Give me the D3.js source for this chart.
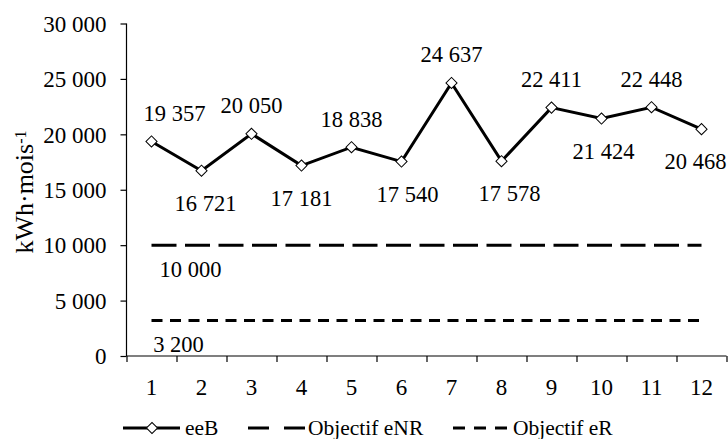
<!DOCTYPE html>
<html><head><meta charset="utf-8">
<script src="https://cdn.jsdelivr.net/npm/d3@7"></script>
<style>
html,body{margin:0;padding:0;background:#fff;}
svg text{font-family:"Liberation Serif","Times New Roman","DejaVu Serif",serif !important;fill:#000;}
</style></head>
<body>
<svg id="c" width="728" height="439" font-family="Liberation Serif, Times New Roman, DejaVu Serif, serif"></svg>
<script>
// ---- data ----
const months = [1,2,3,4,5,6,7,8,9,10,11,12];
const eeB = [19357,16721,20050,17181,18838,17540,24637,17578,22411,21424,22448,20468];
const objectifENR = [10000,10000,10000,10000,10000,10000,10000,10000,10000,10000,10000,10000];
const objectifER = [3200,3200,3200,3200,3200,3200,3200,3200,3200,3200,3200,3200];
const yTickValues = [0,5000,10000,15000,20000,25000,30000];
const seriesNames = ["eeB","Objectif eNR","Objectif eR"];
const yTitle = "kWh·mois";
const yTitleSup = "-1";

// ---- layout (label placement, not data) ----
const labelSide = ["above","below","above","below","above","below","above","below","above","below","above","below"];
const labelDx = [23,4,0,0,0,6,0,8,0,2,0,-6];

const svg = d3.select("#c");
const FF = "Liberation Serif, Times New Roman, DejaVu Serif, serif";
const fmt = d3.formatLocale({decimal:",",thousands:" ",grouping:[3],currency:["","€"]}).format(",d");

const x = d3.scaleLinear().domain([0.5,12.5]).range([126.5,726.5]);
const y = d3.scaleLinear().domain([0,30000]).range([356,23.5]);

// y axis
const yAxis = svg.append("g").attr("transform","translate(126.5,0)")
  .call(d3.axisLeft(y).tickValues(yTickValues).tickSize(6).tickPadding(14).tickFormat(fmt));
yAxis.attr("font-family",FF);
yAxis.selectAll("text").style("font-size","23px").attr("fill","#000").attr("dy","0.34em");
yAxis.selectAll("line,path").attr("stroke","#000").attr("stroke-width",1.2);
yAxis.select("path").attr("d","M0,"+y(30000)+"V"+y(0));

// x axis
const xAxis = svg.append("g").attr("transform","translate(0,"+y(0)+")")
  .call(d3.axisBottom(x).tickValues(d3.range(0.5,13,1)).tickSize(6).tickFormat(""));
xAxis.selectAll("line,path").attr("stroke","#000").attr("stroke-width",1.2);
xAxis.select("path").attr("d","M"+x(0.5)+",0H"+x(12.5));
svg.append("g").attr("font-family",FF).selectAll("text").data(months).join("text")
  .attr("x",d=>x(d)).attr("y",395).attr("text-anchor","middle")
  .style("font-size","23px").text(d=>d);

// y title
const tt = svg.append("text").attr("font-family",FF).attr("transform","translate(33,192) rotate(-90)")
  .attr("text-anchor","middle").style("font-size","26px");
tt.append("tspan").text(yTitle);
tt.append("tspan").attr("dy","-0.45em").style("font-size","16px").text(yTitleSup);

// reference lines
const line = d3.line().x((d,i)=>x(months[i])).y(d=>y(d));
svg.append("path").datum(objectifENR).attr("d",line).attr("fill","none")
  .attr("stroke","#000").attr("stroke-width",3).attr("stroke-dasharray","25,8.5");
svg.append("path").datum(objectifER).attr("d",line).attr("fill","none")
  .attr("stroke","#000").attr("stroke-width",3).attr("stroke-dasharray","11,7.5");
svg.append("text").attr("font-family",FF).attr("x",x(months[0])+39).attr("y",y(objectifENR[0])+32)
  .attr("text-anchor","middle").style("font-size","22.5px").text(fmt(objectifENR[0]));
svg.append("text").attr("font-family",FF).attr("x",x(months[0])+27).attr("y",y(objectifER[0])+31.5)
  .attr("text-anchor","middle").style("font-size","22.5px").text(fmt(objectifER[0]));

// eeB line
svg.append("path").datum(eeB).attr("d",line).attr("fill","none")
  .attr("stroke","#000").attr("stroke-width",3).attr("stroke-linejoin","miter");
svg.append("g").selectAll("path").data(eeB).join("path")
  .attr("d",d3.symbol().type(d3.symbolSquare).size(62)())
  .attr("transform",(d,i)=>"translate("+x(months[i])+","+y(d)+") rotate(45)")
  .attr("fill","#fff").attr("stroke","#000").attr("stroke-width",1);
svg.append("g").attr("font-family",FF).selectAll("text").data(eeB).join("text")
  .attr("x",(d,i)=>x(months[i])+labelDx[i])
  .attr("y",(d,i)=>y(d)+(labelSide[i]==="above"?-20.5:40))
  .attr("text-anchor","middle").style("font-size","22.5px").text(d=>fmt(d));

// legend
const ly = 428;
const lg = svg.append("g").attr("font-family",FF);
lg.append("line").attr("x1",123).attr("x2",180).attr("y1",ly).attr("y2",ly).attr("stroke","#000").attr("stroke-width",3);
lg.append("path").attr("d",d3.symbol().type(d3.symbolSquare).size(62)())
  .attr("transform","translate(152,"+ly+") rotate(45)").attr("fill","#fff").attr("stroke","#000");
lg.append("text").attr("x",185).attr("y",ly+7).style("font-size","21.5px").text(seriesNames[0]);
lg.append("line").attr("x1",248).attr("x2",305).attr("y1",ly).attr("y2",ly).attr("stroke","#000").attr("stroke-width",3).attr("stroke-dasharray","21,15");
lg.append("text").attr("x",308).attr("y",ly+7).style("font-size","21.5px").text(seriesNames[1]);
lg.append("line").attr("x1",453).attr("x2",507).attr("y1",ly).attr("y2",ly).attr("stroke","#000").attr("stroke-width",3).attr("stroke-dasharray","12,9");
lg.append("text").attr("x",513).attr("y",ly+7).style("font-size","21.5px").text(seriesNames[2]);
</script>
</body></html>
